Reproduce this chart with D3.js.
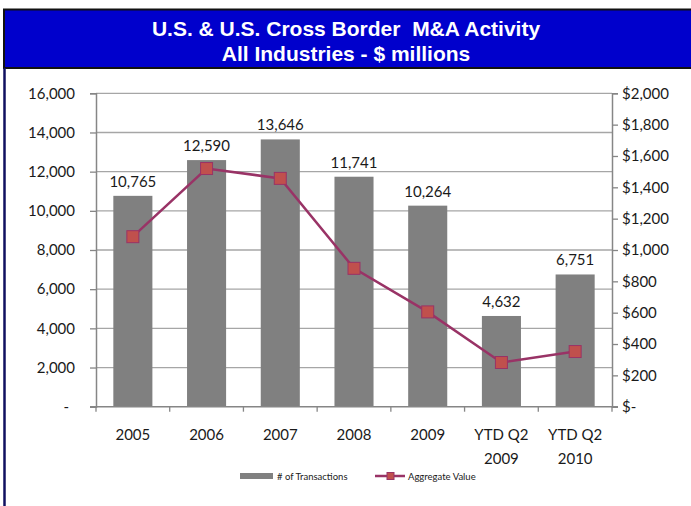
<!DOCTYPE html>
<html>
<head>
<meta charset="utf-8">
<script src="https://cdn.jsdelivr.net/npm/d3@7"></script>
<style>
  html, body { margin: 0; padding: 0; background: #fff; }
  svg text { font-family: Lato, "Open Sans", sans-serif; }
</style>
</head>
<body>
<svg id="chart" width="691" height="506"></svg>
<script>
// chart data
var categories = ["2005", "2006", "2007", "2008", "2009", "YTD Q2 2009", "YTD Q2 2010"];
var transactions = [10765, 12590, 13646, 11741, 10264, 4632, 6751];
var aggregateValue = [1085, 1520, 1457, 883, 605, 282, 352];
var leftTicks = [0, 2000, 4000, 6000, 8000, 10000, 12000, 14000, 16000];
var rightTicks = [0, 200, 400, 600, 800, 1000, 1200, 1400, 1600, 1800, 2000];
var titleLines = ["U.S. & U.S. Cross Border  M&A Activity", "All Industries - $ millions"];
var legendLabels = ["# of Transactions", "Aggregate Value"];

var svg = d3.select("#chart");
var W = 691, H = 506;
var plot = {left: 96, right: 612, top: 93.3, bottom: 406.7};

// title banner
svg.append("rect")
    .attr("x", 4).attr("y", 9.5)
    .attr("width", W).attr("height", 58.5)
    .attr("fill", "#0000cc")
    .attr("stroke", "#111").attr("stroke-width", 2);

svg.append("line")
    .attr("x1", 4.5).attr("x2", 4.5)
    .attr("y1", 68).attr("y2", H)
    .attr("stroke", "#101060").attr("stroke-width", 2.5);

svg.selectAll("text.title")
    .data(titleLines)
  .enter().append("text")
    .attr("class", "title")
    .attr("x", 346)
    .attr("y", function(d, i) { return 35.5 + i * 25; })
    .attr("text-anchor", "middle")
    .style("font-family", "'Liberation Sans', Arial, sans-serif")
    .style("font-weight", "bold")
    .style("font-size", "21px")
    .style("white-space", "pre")
    .attr("fill", "#fff")
    .text(function(d) { return d; });

// scales
var x = d3.scaleBand()
    .domain(categories)
    .range([plot.left, plot.right])
    .paddingInner(0.47)
    .paddingOuter(0.235);

var yL = d3.scaleLinear().domain([0, 16000]).range([plot.bottom, plot.top]);
var yR = d3.scaleLinear().domain([0, 2000]).range([plot.bottom, plot.top]);

// gridlines
svg.append("g")
    .selectAll("line")
    .data(leftTicks.slice(1))
  .enter().append("line")
    .attr("x1", plot.left).attr("x2", plot.right)
    .attr("y1", function(d) { return yL(d); })
    .attr("y2", function(d) { return yL(d); })
    .attr("stroke", "#a6a6a6")
    .attr("stroke-width", 1.3);

// bars
svg.append("g")
    .selectAll("rect")
    .data(transactions)
  .enter().append("rect")
    .attr("x", function(d, i) { return x(categories[i]); })
    .attr("y", function(d) { return yL(d); })
    .attr("width", x.bandwidth())
    .attr("height", function(d) { return yL(0) - yL(d); })
    .attr("fill", "#808080");

// bar labels
svg.append("g")
    .selectAll("text")
    .data(transactions)
  .enter().append("text")
    .attr("x", function(d, i) { return x(categories[i]) + x.bandwidth() / 2; })
    .attr("y", function(d) { return yL(d) - 9; })
    .attr("text-anchor", "middle")
    .style("font-size", "15px")
    .attr("fill", "#1a1a1a")
    .text(function(d) { return d3.format(",")(d); });

// axes
var axisColor = "#868686";

var leftAxis = svg.append("g")
    .attr("transform", "translate(" + plot.left + ",0)")
    .call(d3.axisLeft(yL).tickValues(leftTicks).tickSize(6).tickPadding(15)
      .tickFormat(function(d) { return d === 0 ? "-" : d3.format(",")(d); }));

var rightAxis = svg.append("g")
    .attr("transform", "translate(" + plot.right + ",0)")
    .call(d3.axisRight(yR).tickValues(rightTicks).tickSize(6).tickPadding(4)
      .tickFormat(function(d) { return d === 0 ? "$-" : "$" + d3.format(",")(d); }));

[leftAxis, rightAxis].forEach(function(a) {
  a.select(".domain").attr("stroke", axisColor).attr("stroke-width", 1.5);
  a.selectAll(".tick line").attr("stroke", axisColor).attr("stroke-width", 1.3);
  a.selectAll(".tick text")
    .style("font-family", "Lato, 'Open Sans', sans-serif")
    .style("font-size", "15px")
    .attr("fill", "#1a1a1a");
});
leftAxis.selectAll(".tick text").filter(function(d) { return d === 0; }).attr("dx", -6);

// bottom axis
svg.append("line")
    .attr("x1", plot.left - 6).attr("x2", plot.right + 6)
    .attr("y1", plot.bottom).attr("y2", plot.bottom)
    .attr("stroke", axisColor).attr("stroke-width", 1.5);

svg.append("g")
    .selectAll("line")
    .data(d3.range(categories.length + 1))
  .enter().append("line")
    .attr("x1", function(i) { return plot.left + i * x.step(); })
    .attr("x2", function(i) { return plot.left + i * x.step(); })
    .attr("y1", plot.bottom).attr("y2", plot.bottom + 5)
    .attr("stroke", axisColor).attr("stroke-width", 1.3);

var xLabels = svg.append("g")
    .selectAll("text")
    .data(categories)
  .enter().append("text")
    .attr("text-anchor", "middle")
    .style("font-size", "15px")
    .attr("fill", "#1a1a1a");

xLabels.each(function(d) {
  var m = d.match(/^(YTD Q2) (\d{4})$/);
  var lines = m ? [m[1], m[2]] : [d];
  var cx = x(d) + x.bandwidth() / 2;
  d3.select(this).selectAll("tspan")
      .data(lines)
    .enter().append("tspan")
      .attr("x", cx)
      .attr("y", function(l, i) { return 440 + i * 24; })
      .text(function(l) { return l; });
});

// aggregate value line
var line = d3.line()
    .x(function(d, i) { return x(categories[i]) + x.bandwidth() / 2; })
    .y(function(d) { return yR(d); });

svg.append("path")
    .datum(aggregateValue)
    .attr("d", line)
    .attr("fill", "none")
    .attr("stroke", "#993366")
    .attr("stroke-width", 2.5);

var ms = 12;
svg.append("g")
    .selectAll("rect")
    .data(aggregateValue)
  .enter().append("rect")
    .attr("x", function(d, i) { return x(categories[i]) + x.bandwidth() / 2 - ms / 2; })
    .attr("y", function(d) { return yR(d) - ms / 2; })
    .attr("width", ms).attr("height", ms)
    .attr("fill", "#c0504d")
    .attr("stroke", "#993366")
    .attr("stroke-width", 1);

// legend
var legend = svg.append("g").attr("transform", "translate(0,476)");

legend.append("rect")
    .attr("x", 240).attr("y", -3)
    .attr("width", 33).attr("height", 6)
    .attr("fill", "#808080");

legend.append("text")
    .attr("x", 277).attr("y", 3.5)
    .style("font-size", "9.5px")
    .attr("fill", "#1a1a1a")
    .text(legendLabels[0]);

legend.append("line")
    .attr("x1", 375).attr("x2", 405)
    .attr("y1", 0).attr("y2", 0)
    .attr("stroke", "#993366").attr("stroke-width", 2.5);

legend.append("rect")
    .attr("x", 387).attr("y", -3.5)
    .attr("width", 7).attr("height", 7)
    .attr("fill", "#c0504d")
    .attr("stroke", "#993366").attr("stroke-width", 1);

legend.append("text")
    .attr("x", 408).attr("y", 3.5)
    .style("font-size", "9.5px")
    .attr("fill", "#1a1a1a")
    .text(legendLabels[1]);
</script>
</body>
</html>
